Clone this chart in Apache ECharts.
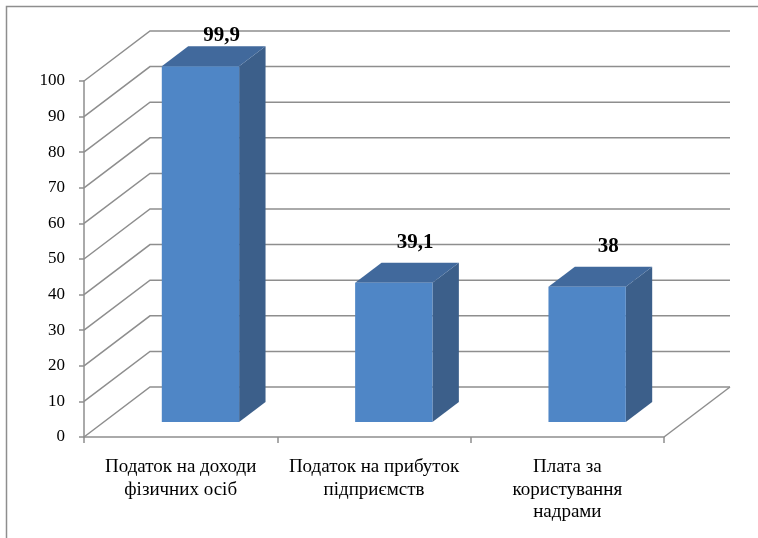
<!DOCTYPE html>
<html>
<head>
<meta charset="utf-8">
<script src="https://cdn.jsdelivr.net/npm/echarts@6/dist/echarts.min.js"></script>
<style>
  html, body { margin: 0; padding: 0; background: #ffffff; }
  #chart { width: 758px; height: 538px; }
</style>
</head>
<body>
<div id="chart"></div>
<script>
// Tax revenue shares, three categories
const categories = [
  'Податок на доходи\nфізичних осіб',
  'Податок на прибуток\nпідприємств',
  'Плата за\nкористування\nнадрами'
];
const values = [99.9, 39.1, 38];
const valueLabels = ['99,9', '39,1', '38'];
const yTicks = [0, 10, 20, 30, 40, 50, 60, 70, 80, 90, 100];

// Perspective depth of the 3D box (pixels from front plane to back wall)
const DEPTH_X = 66;
const DEPTH_Y = -50;
// Bars sit between these fractions of the depth, and take this share of a band
const BAR_DEPTH_FROM = 0.3;
const BAR_DEPTH_TO = 0.7;
const BAR_WIDTH_SHARE = 0.4;

const GRID_COLOR = '#8e8e8e';
const FRONT_COLOR = '#4f86c6';
const TOP_COLOR = '#41699c';
const SIDE_COLOR = '#3c5f8a';
const SERIF = '"Liberation Serif", "Times New Roman", serif';

const chart = echarts.init(document.getElementById('chart'), null, { renderer: 'canvas' });

function renderWalls(params, api) {
  const cs = params.coordSys;
  const v = api.value(1);
  const y = api.coord([0, v])[1];
  const x0 = cs.x;
  const x1 = cs.x + cs.width;
  const style = { stroke: GRID_COLOR, lineWidth: 1.5, fill: null };
  const children = [{
    type: 'polyline',
    shape: { points: [[x0, y], [x0 + DEPTH_X, y + DEPTH_Y], [x1 + DEPTH_X, y + DEPTH_Y]] },
    style: style
  }];
  if (v === 0) {
    children.push({
      type: 'line',
      shape: { x1: x1, y1: y, x2: x1 + DEPTH_X, y2: y + DEPTH_Y },
      style: style
    });
  }
  return { type: 'group', children: children };
}

function renderBar(params, api) {
  const cs = params.coordSys;
  const idx = api.value(0);
  const v = api.value(1);
  const base = api.coord([idx, 0]);
  const top = api.coord([idx, v]);
  const band = api.size([1, 0])[0];
  const w = band * BAR_WIDTH_SHARE;
  const ox = BAR_DEPTH_FROM * DEPTH_X;
  const oy = BAR_DEPTH_FROM * DEPTH_Y;
  const dx = (BAR_DEPTH_TO - BAR_DEPTH_FROM) * DEPTH_X;
  const dy = (BAR_DEPTH_TO - BAR_DEPTH_FROM) * DEPTH_Y;
  const xl = base[0] - w / 2 + ox;
  const xr = base[0] + w / 2 + ox;
  const yb = base[1] + oy;
  const yt = top[1] + oy;

  const topCx = (xl + xr) / 2 + dx / 2;
  const topCy = yt + dy / 2;
  // value label floats above the bar's top face, kept inside the box
  const labelY = Math.max(topCy - 30, cs.y - 45);

  return {
    type: 'group',
    children: [
      {
        type: 'polygon',
        shape: { points: [[xr, yb], [xr + dx, yb + dy], [xr + dx, yt + dy], [xr, yt]] },
        style: { fill: SIDE_COLOR }
      },
      {
        type: 'polygon',
        shape: { points: [[xl, yt], [xr, yt], [xr + dx, yt + dy], [xl + dx, yt + dy]] },
        style: { fill: TOP_COLOR }
      },
      {
        type: 'rect',
        shape: { x: xl, y: yt, width: xr - xl, height: yb - yt },
        style: { fill: FRONT_COLOR }
      },
      {
        type: 'text',
        x: topCx + 8,
        y: labelY,
        style: {
          text: valueLabels[idx],
          fill: '#000000',
          font: 'bold 21px ' + SERIF,
          align: 'center',
          verticalAlign: 'middle'
        }
      }
    ]
  };
}

chart.setOption({
  animation: false,
  backgroundColor: '#ffffff',
  graphic: [{
    type: 'rect',
    shape: { x: 6.5, y: 6.5, width: 900, height: 700 },
    style: { fill: null, stroke: GRID_COLOR, lineWidth: 1.5 },
    silent: true
  }],
  grid: { left: 84, right: 94, top: 81, bottom: 101 },
  xAxis: {
    type: 'category',
    data: categories,
    boundaryGap: true,
    axisLine: { show: true, lineStyle: { color: GRID_COLOR, width: 1.5 } },
    axisTick: { show: true, length: 6, lineStyle: { color: GRID_COLOR, width: 1.5 } },
    axisLabel: {
      color: '#000000',
      fontFamily: SERIF,
      fontSize: 19,
      lineHeight: 22.5,
      margin: 19,
      interval: 0
    },
    splitLine: { show: false }
  },
  yAxis: {
    type: 'value',
    min: 0,
    max: 100,
    interval: 10,
    axisLine: { show: true, lineStyle: { color: GRID_COLOR, width: 1.5 } },
    axisTick: { show: true, length: 5, lineStyle: { color: GRID_COLOR, width: 1.5 } },
    axisLabel: { color: '#000000', fontFamily: SERIF, fontSize: 17, margin: 19 },
    splitLine: { show: false }
  },
  series: [
    {
      type: 'custom',
      name: 'walls',
      renderItem: renderWalls,
      data: yTicks.map(function (t) { return [0, t]; }),
      clip: false,
      silent: true,
      z: 1
    },
    {
      type: 'custom',
      name: 'bars',
      renderItem: renderBar,
      data: values.map(function (v, i) { return [i, v]; }),
      clip: false,
      z: 2
    }
  ]
});
</script>
</body>
</html>
